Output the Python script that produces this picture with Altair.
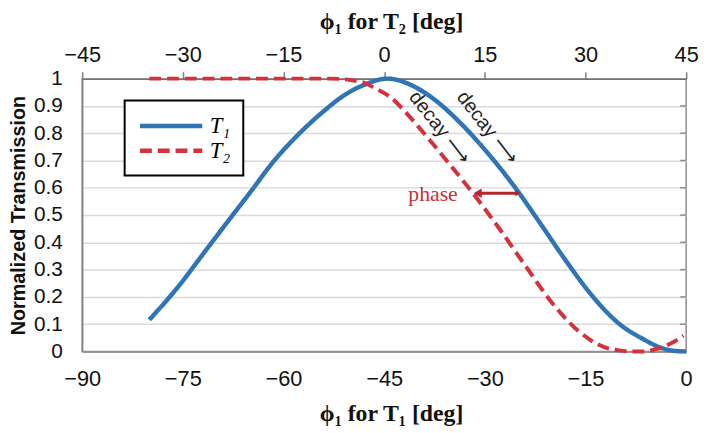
import altair as alt
import pandas as pd

# ---- data ----
t1_deg = [-80, -76, -71.5, -68.5, -64.6, -61.7, -57.8, -53.8, -50.9, -47.9, -44.5,
          -40.6, -37.6, -33.7, -29.8, -25.4, -22, -18.1, -14.1, -10.2, -6.3, -3.8, -2, 0]
t1_val = [0.116, 0.228, 0.373, 0.47, 0.595, 0.69, 0.795, 0.885, 0.94, 0.978, 1.0,
          0.972, 0.925, 0.839, 0.734, 0.598, 0.479, 0.339, 0.207, 0.106, 0.044, 0.014, 0.003, 0.0]

t2_deg = [-35, -20, -8, -5, -3, -1.5, 1.0, 2.9, 5.4, 9.3, 13.2, 17.2, 21.1, 25.0,
          28.9, 32.8, 35, 36.8, 38.7, 40.7, 42.6, 44.6]
t2_val = [1.0, 1.0, 1.0, 0.995, 0.985, 0.967, 0.931, 0.885, 0.815, 0.70, 0.581, 0.449,
          0.312, 0.179, 0.076, 0.016, 0.004, 0.0, 0.0, 0.01, 0.028, 0.058]

bottom_ticks = [-90, -75, -60, -45, -30, -15, 0]
top_ticks = [-45, -30, -15, 0, 15, 30, 45]
y_ticks = [0, 0.1, 0.2, 0.3, 0.4, 0.5, 0.6, 0.7, 0.8, 0.9, 1.0]

series_names = ["T\u2081", "T\u2082"]
series_colors = ["#2e74b6", "#d6303a"]

decay_x = [-36.7, -29.6]
decay_y = [0.819, 0.819]
decay_text = ["decay \u27f6", "decay \u27f6"]

phase_x = [-31.67, -24.69]
phase_y = [0.58, 0.58]
phase_label_x = [-34.03]
phase_label_y = [0.551]
phase_label = ["phase"]

W, H = 611, 276

df1 = pd.DataFrame({"phi": t1_deg, "T": t1_val, "series": series_names[0]})
df2 = pd.DataFrame({"phi": t2_deg, "T": t2_val, "series": series_names[1]})

legend = alt.Legend(title=None, orient="none", legendX=43, legendY=22, direction="vertical",
                    symbolType="M-1,0H5", symbolSize=441, symbolStrokeWidth=4.5,
                    labelFont="Liberation Serif", labelFontStyle="italic", labelFontSize=23,
                    labelColor="black", labelOffset=47, padding=13, rowPadding=0,
                    strokeColor="black", fillColor="white")

color = alt.Color("series:N", scale=alt.Scale(domain=series_names, range=series_colors), legend=legend)
dash = alt.StrokeDash("series:N", scale=alt.Scale(domain=series_names, range=[[1, 0], [12, 6]]), legend=legend)

y_enc = alt.Y("T:Q", scale=alt.Scale(domain=[0, 1], nice=False, zero=False),
              axis=alt.Axis(values=y_ticks, format=".1~f", title="Normalized Transmission",
                            ticks=False, tickSize=0, labelPadding=20, grid=True,
                            gridColor="#d9d9d9", gridWidth=1.5, domainColor="#808080",
                            domainWidth=1.5, labelFont="Liberation Sans", labelFontSize=21,
                            labelColor="#111", labelFlush=False, labelOverlap=False,
                            titleFont="Liberation Sans", titleFontSize=20, titleFontWeight="bold",
                            titleColor="#111", titleX=-64, titleY=H / 2, titleAngle=270,
                            titleAlign="center", titleBaseline="middle"))

xb = alt.X("phi:Q", scale=alt.Scale(domain=[-90, 0], nice=False, zero=False),
           axis=alt.Axis(orient="bottom", values=bottom_ticks, format="d", title="\u03d5\u2081 for T\u2081 [deg]",
                         ticks=False, tickSize=0, labelPadding=17, grid=False,
                         domainColor="#808080", domainWidth=1.5, labelFont="Liberation Sans",
                         labelFontSize=22, labelColor="#111", labelFlush=False, labelOverlap=False,
                         titleFont="Liberation Serif", titleFontSize=24, titleFontWeight="bold",
                         titleColor="#111", titlePadding=13, titleX=W / 2 + 7))

xt = alt.X("phi:Q", scale=alt.Scale(domain=[-45, 45], nice=False, zero=False),
           axis=alt.Axis(orient="top", values=top_ticks, format="d", title="\u03d5\u2081 for T\u2082 [deg]",
                         ticks=True, tickSize=7, tickColor="#808080", tickWidth=1.5,
                         labelPadding=5, grid=False, domainColor="#707070", domainWidth=1.5,
                         labelFont="Liberation Sans", labelFontSize=22, labelColor="#111",
                         labelFlush=False, labelOverlap=False,
                         titleFont="Liberation Serif", titleFontSize=24, titleFontWeight="bold",
                         titleColor="#111", titlePadding=11, titleX=W / 2 + 7))

blue = alt.Chart(df1).mark_line(strokeWidth=4.5, interpolate="monotone").encode(
    x=xb, y=y_enc, color=color, strokeDash=dash)

right_ticks = alt.Chart(pd.DataFrame({"T": y_ticks[1:-1]})).mark_rule(
    color="#8c8c8c", strokeWidth=1.5).encode(
    y=y_enc, x=alt.value(W - 6), x2=alt.value(W))

decay = alt.Chart(pd.DataFrame({"phi": decay_x, "T": decay_y, "txt": decay_text})).mark_text(
    angle=52, align="center", baseline="middle", font="Liberation Sans", fontSize=20,
    color="#222").encode(x="phi:Q", y=y_enc, text="txt:N")

arrow_line = alt.Chart(pd.DataFrame({"phi": [phase_x[0] + 0.6], "phi2": [phase_x[1] - 0.4],
                                     "T": [phase_y[0]]})).mark_rule(
    color="#b5262c", strokeWidth=3).encode(x="phi:Q", x2="phi2:Q", y=y_enc)
arrow_left = alt.Chart(pd.DataFrame({"phi": [phase_x[0] + 0.6], "T": [phase_y[0]]})).mark_point(
    shape="triangle-left", size=90, filled=True, color="#b5262c", opacity=1).encode(x="phi:Q", y=y_enc)
arrow_right = alt.Chart(pd.DataFrame({"phi": [phase_x[1] - 0.4], "T": [phase_y[1]]})).mark_point(
    shape="triangle-right", size=40, filled=True, color="#b5262c", opacity=1).encode(x="phi:Q", y=y_enc)

phase_txt = alt.Chart(pd.DataFrame({"phi": phase_label_x, "T": phase_label_y, "txt": phase_label})).mark_text(
    align="right", baseline="alphabetic", font="Liberation Serif", fontSize=22,
    color="#c8323c").encode(x="phi:Q", y=y_enc, text="txt:N")

layer_a = alt.layer(blue, right_ticks, decay, arrow_line, arrow_left, arrow_right, phase_txt)

red = alt.Chart(df2).mark_line(strokeWidth=4, interpolate="monotone").encode(
    x=xt, y=y_enc, color=color, strokeDash=dash)

chart = alt.layer(layer_a, red).resolve_scale(x="independent").properties(
    width=W, height=H,
    padding={"left": 75, "top": 69, "right": 14, "bottom": 80},
    autosize=alt.AutoSizeParams(type="none"),
).configure_view(stroke="#8c8c8c", strokeWidth=1.5).configure_legend(strokeWidth=2)

chart.save("out.html", embed_options={"renderer": "svg", "actions": False})
